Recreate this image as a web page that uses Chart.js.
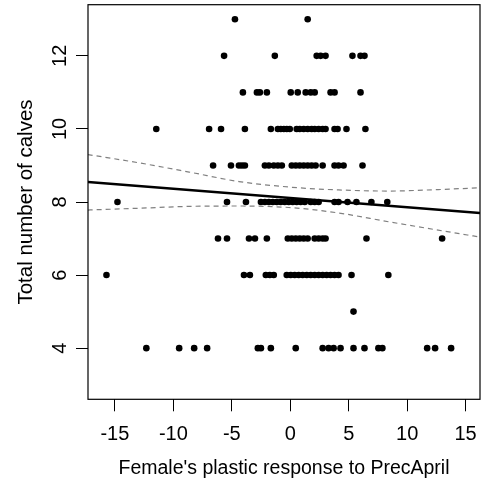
<!DOCTYPE html>
<html>
<head>
<meta charset="utf-8">
<script src="https://cdn.jsdelivr.net/npm/chart.js@4/dist/chart.umd.min.js"></script>
<style>
  html, body { margin: 0; padding: 0; background: #fff; overflow: hidden; }
  #c { display: block; }
</style>
</head>
<body>
<canvas id="c" width="484" height="480"></canvas>
<script>
// Plastic response to April precipitation, grouped by each female's total number of calves
const calfCounts = [4, 5, 6, 7, 8, 9, 10, 11, 12, 13];
const resp4  = [-12.31, -9.50, -8.22, -7.11, -2.77, -2.51, -1.66, 0.47, 2.77, 3.28, 3.71, 4.30, 5.41, 6.35, 7.54, 7.88, 11.71, 12.39, 13.76];
const resp5  = [5.41];
const resp6  = [-15.72, -3.96, -3.45, -2.09, -1.75, -1.41, -0.30, 0.04, 0.38, 0.72, 1.06, 1.41, 1.75, 2.09, 2.43, 2.77, 3.11, 3.45, 3.79, 4.13, 5.24, 8.39];
const resp7  = [-6.18, -5.41, -3.53, -3.02, -2.00, -0.21, 0.13, 0.47, 0.81, 1.15, 1.49, 2.09, 2.43, 2.77, 3.02, 6.52, 12.99];
const resp8  = [-14.78, -5.41, -3.79, -2.51, -2.17, -1.83, -1.49, -1.15, -0.81, -0.47, -0.13, 0.21, 0.55, 0.89, 1.24, 1.75, 2.09, 2.43, 3.79, 4.13, 4.90, 5.66, 6.94, 8.30];
const resp9  = [-6.60, -5.07, -4.39, -4.13, -3.88, -2.17, -1.83, -1.41, -1.06, -0.72, 0.13, 0.47, 0.81, 1.15, 1.49, 1.83, 2.17, 2.77, 3.79, 4.13, 4.56, 6.18];
const resp10 = [-11.46, -6.94, -5.92, -3.88, -1.66, -1.06, -0.81, -0.55, -0.30, -0.04, 0.55, 0.81, 1.15, 1.49, 1.83, 2.09, 2.43, 2.77, 3.02, 3.79, 4.05, 4.81, 6.43];
const resp11 = [-4.05, -2.85, -2.60, -2.00, 0.04, 0.64, 1.32, 1.75, 2.09, 3.45, 3.79, 6.01];
const resp12 = [-5.66, -1.32, 2.26, 2.60, 3.02, 5.32, 6.01, 6.35];
const resp13 = [-4.73, 1.49];
const responsesByCount = [resp4, resp5, resp6, resp7, resp8, resp9, resp10, resp11, resp12, resp13];

// Fitted regression line and its confidence band
const fitX = [-17.33, 16.23];
const fitY = [8.55, 7.70];
const bandX = [-17.33, -12.90, -8.65, -4.39, -0.13, 4.13, 8.39, 12.65, 16.23];
const bandUpper = [9.30, 9.07, 8.82, 8.56, 8.41, 8.33, 8.30, 8.34, 8.39];
const bandLower = [7.78, 7.83, 7.88, 7.89, 7.85, 7.70, 7.46, 7.23, 7.04];

// Axis ticks and titles
const xTicks = [-15, -10, -5, 0, 5, 10, 15];
const yTicks = [4, 6, 8, 10, 12];
const xTitle = "Female's plastic response to PrecApril";
const yTitle = "Total number of calves";

const points = [];
calfCounts.forEach((n, i) => responsesByCount[i].forEach(x => points.push({ x: x, y: n })));
const pairs = (xs, ys) => xs.map((x, i) => ({ x: x, y: ys[i] }));

const FONT = '"Liberation Sans", Arial, sans-serif';

// Plot box, tick labels and axis titles
const frame = {
  id: 'frame',
  afterDraw(chart) {
    const ctx = chart.ctx;
    const a = chart.chartArea;
    const xs = chart.scales.x, ys = chart.scales.y;
    ctx.save();
    ctx.strokeStyle = '#000';
    ctx.lineWidth = 1.2;
    ctx.strokeRect(a.left, a.top, a.right - a.left, a.bottom - a.top);

    ctx.fillStyle = '#000';
    ctx.font = '20px ' + FONT;
    ctx.textAlign = 'center';
    ctx.textBaseline = 'alphabetic';
    xTicks.forEach(v => ctx.fillText(String(v), xs.getPixelForValue(v), 440));

    yTicks.forEach(v => {
      ctx.save();
      ctx.translate(66, ys.getPixelForValue(v));
      ctx.rotate(-Math.PI / 2);
      ctx.fillText(String(v), 0, 0);
      ctx.restore();
    });

    ctx.font = '19.5px ' + FONT;
    ctx.fillText(xTitle, (a.left + a.right) / 2, 473.5);
    ctx.font = '20.5px ' + FONT;
    ctx.save();
    ctx.translate(31.5, (a.top + a.bottom) / 2);
    ctx.rotate(-Math.PI / 2);
    ctx.fillText(yTitle, 0, 0);
    ctx.restore();
    ctx.restore();
  }
};

new Chart(document.getElementById('c'), {
  type: 'scatter',
  data: {
    datasets: [
      { data: pairs(fitX, fitY), showLine: true, borderColor: '#000', borderWidth: 2.6, pointRadius: 0, fill: false },
      { data: pairs(bandX, bandUpper), showLine: true, borderColor: '#808080', borderWidth: 1.2, borderDash: [5, 4], pointRadius: 0, cubicInterpolationMode: 'monotone', fill: false },
      { data: pairs(bandX, bandLower), showLine: true, borderColor: '#808080', borderWidth: 1.2, borderDash: [5, 4], pointRadius: 0, cubicInterpolationMode: 'monotone', fill: false },
      { data: points, backgroundColor: '#000', borderColor: '#000', borderWidth: 0, pointRadius: 3.3 }
    ]
  },
  options: {
    responsive: false,
    animation: false,
    devicePixelRatio: 1,
    layout: { padding: { left: 0, top: 4.7, right: 2, bottom: 0 } },
    plugins: { legend: { display: false }, tooltip: { enabled: false } },
    scales: {
      x: {
        type: 'linear', min: -17.3, max: 16.23,
        afterBuildTicks(s) { s.ticks = xTicks.map(v => ({ value: v })); },
        afterFit(s) { s.height = 80.7; },
        ticks: { display: false },
        grid: { display: true, drawOnChartArea: false, drawTicks: true, tickLength: 12, color: '#000', lineWidth: 1 },
        border: { display: false }
      },
      y: {
        type: 'linear', min: 2.6, max: 13.4,
        afterBuildTicks(s) { s.ticks = yTicks.map(v => ({ value: v })); },
        afterFit(s) { s.width = 88; },
        ticks: { display: false },
        grid: { display: true, drawOnChartArea: false, drawTicks: true, tickLength: 12, color: '#000', lineWidth: 1 },
        border: { display: false }
      }
    }
  },
  plugins: [frame]
});
</script>
</body>
</html>
